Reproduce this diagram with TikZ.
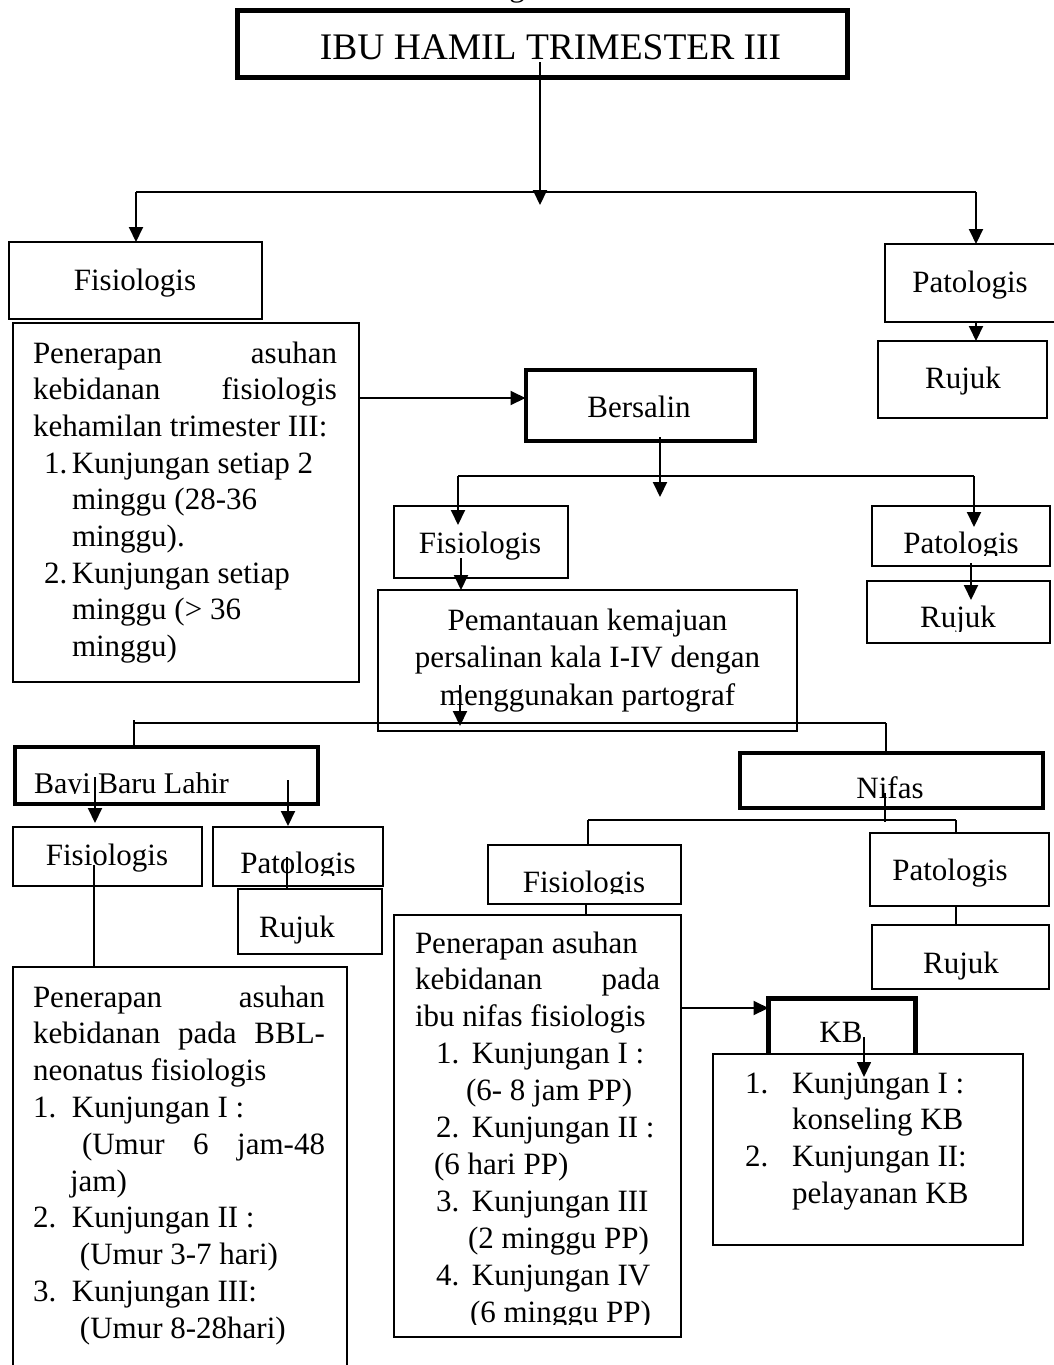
\documentclass[tikz,border=0pt]{standalone}
\usepackage{fontspec}
\setmainfont{Liberation Serif}
\usetikzlibrary{arrows.meta,calc}
\begin{document}
\begin{tikzpicture}[x=1pt,y=-1pt,
  bx/.style={draw, line width=1.6pt, inner sep=0pt, outer sep=0pt},
  bxt/.style={draw, line width=4.5pt, inner sep=0pt, outer sep=0pt},
  arr/.style={line width=2pt, -{Triangle[width=14pt,length=15pt]}},
  ln/.style={line width=1.8pt},
  txt/.style={inner sep=0pt, outer sep=0pt, font=\fontsize{31}{36.7}\selectfont},
]
\useasboundingbox (0,0) rectangle (1053,1365);

% ---------- boxes ----------
\node[bxt, minimum width=610pt, minimum height=67pt] (top) at (542.5,44) {};
\node[bx, minimum width=253pt, minimum height=77pt] (fis1) at (135.5,280.5) {};
\node[bx, minimum width=346pt, minimum height=359pt] (box1) at (186,502.5) {};
\node[bx, minimum width=172pt, minimum height=78pt] (pat1) at (971,283) {};
\node[bx, minimum width=169pt, minimum height=77pt] (rujuk1) at (962.5,379.5) {};
\node[bxt, line width=4pt, minimum width=229pt, minimum height=71pt] (bers) at (640,405) {};
\node[bx, minimum width=174pt, minimum height=72pt] (fis2) at (481,542) {};
\node[bx, minimum width=178pt, minimum height=60pt] (pat2) at (961,536) {};
\node[bx, minimum width=183pt, minimum height=62pt] (rujuk2) at (958.5,612) {};
\node[bx, minimum width=419pt, minimum height=141pt] (pem) at (587.5,660.5) {};
\node[bxt, line width=4pt, minimum width=303pt, minimum height=57pt] (bbl) at (166.5,775.5) {};
\node[bx, minimum width=189pt, minimum height=59pt] (fis3) at (107.5,856.5) {};
\node[bx, minimum width=170pt, minimum height=59pt] (pat3) at (298,856.5) {};
\node[bx, minimum width=144pt, minimum height=65pt] (rujuk3) at (310,921.5) {};
\node[bx, minimum width=334pt, minimum height=413pt] (box4) at (180,1173.5) {};
\node[bxt, line width=4pt, minimum width=303pt, minimum height=55pt] (nifas) at (891.5,780.5) {};
\node[bx, minimum width=193pt, minimum height=59pt] (fis4) at (584.5,874.5) {};
\node[bx, minimum width=179pt, minimum height=73pt] (pat4) at (959.5,869.5) {};
\node[bx, minimum width=177pt, minimum height=64pt] (rujuk4) at (960.5,957) {};
\node[bx, minimum width=287pt, minimum height=422pt] (box5) at (537.5,1126) {};
\node[bxt, minimum width=147pt, minimum height=62pt] (kb) at (842,1029.5) {};

% ---------- texts ----------
\node[txt, anchor=base] (gcut) at (517,-3) {g};
\node[txt, font=\fontsize{37.5}{44}\selectfont, anchor=base] (ttop) at (550.5,59) {IBU HAMIL TRIMESTER III};
\node[txt, anchor=base] (tfis1) at (135,290) {Fisiologis};
\node[txt, anchor=base] (tpat1) at (970,292) {Patologis};
\node[txt, anchor=base] (trujuk1) at (963,388) {Rujuk};
\node[txt, anchor=base] (tbers) at (639,417) {Bersalin};
\node[txt, anchor=base] (tfis2) at (480,553) {Fisiologis};
\node[txt, anchor=base] (tnifas) at (890,798) {Nifas};
\node[txt, anchor=base] (tfis3) at (107,865) {Fisiologis};
\node[txt, anchor=base] (trujuk3) at (297,937) {Rujuk};
\node[txt, anchor=base] (tpat4) at (950,880) {Patologis};
\node[txt, anchor=base] (trujuk4) at (961,973) {Rujuk};
\node[txt, anchor=base] (tkb) at (841,1042) {KB};

\begin{scope}
\clip (870,500) rectangle (1053,555.5);
\node[txt, anchor=base] (tpat2) at (961,553) {Patologis};
\end{scope}
\begin{scope}
\clip (867,585) rectangle (1053,631);
\node[txt, anchor=base] (trujuk2) at (958,627) {Rujuk};
\end{scope}
\begin{scope}
\clip (15,750) rectangle (320,793.8);
\node[txt, font=\fontsize{30}{36}\selectfont, anchor=base west] (tbbl) at (34,793) {Bayi Baru Lahir};
\end{scope}
\begin{scope}
\clip (213,830) rectangle (383,875);
\node[txt, anchor=base] (tpat3) at (298,873) {Patologis};
\end{scope}
\begin{scope}
\clip (488,848) rectangle (681,893.5);
\node[txt, anchor=base] (tfis4) at (584,892) {Fisiologis};
\end{scope}

\node[txt, anchor=base west] (tbox1) at (33,363) {\begin{minipage}[t]{304pt}\fontsize{31}{36.7}\selectfont
Penerapan\hfill asuhan\\
kebidanan\hfill fisiologis\\
kehamilan trimester III:\\
\hspace*{11pt}\makebox[28pt][l]{1.}Kunjungan setiap 2\\
\hspace*{39pt}minggu (28-36\\
\hspace*{39pt}minggu).\\
\hspace*{11pt}\makebox[28pt][l]{2.}Kunjungan setiap\\
\hspace*{39pt}minggu (> 36\\
\hspace*{39pt}minggu)
\end{minipage}};

\node[txt, anchor=base] (tpem) at (587.5,630) {\begin{minipage}[t]{419pt}\fontsize{31}{37.5}\selectfont\centering
Pemantauan kemajuan\\
persalinan kala I-IV dengan\\
menggunakan partograf
\end{minipage}};

\node[txt, anchor=base west] (tbox4) at (33,1007) {\begin{minipage}[t]{292pt}\fontsize{31}{36.8}\selectfont
Penerapan\hfill asuhan\\
kebidanan\hfill pada\hfill BBL-\\
neonatus fisiologis\\
\makebox[39pt][l]{1.}Kunjungan I :\\
\hspace*{49pt}(Umur\hfill 6\hfill jam-48\\
\hspace*{37pt}jam)\\
\makebox[39pt][l]{2.}Kunjungan II :\\
\hspace*{47pt}(Umur 3-7 hari)\\
\makebox[39pt][l]{3.}Kunjungan III:\\
\hspace*{47pt}(Umur 8-28hari)
\end{minipage}};

\begin{scope}
\clip (394,915) rectangle (681,1324);
\node[txt, anchor=base west] (tbox5) at (415,953) {\begin{minipage}[t]{245pt}\fontsize{31}{36.9}\selectfont
Penerapan asuhan\\
kebidanan\hfill pada\\
ibu nifas fisiologis\\
\hspace*{21pt}\makebox[36pt][l]{1.}Kunjungan I :\\
\hspace*{51pt}(6- 8 jam PP)\\
\hspace*{21pt}\makebox[36pt][l]{2.}Kunjungan II :\\
\hspace*{19pt}(6 hari PP)\\
\hspace*{21pt}\makebox[36pt][l]{3.}Kunjungan III\\
\hspace*{53pt}(2 minggu PP)\\
\hspace*{21pt}\makebox[36pt][l]{4.}Kunjungan IV\\
\hspace*{55pt}(6 minggu PP)
\end{minipage}};
\end{scope}

% ---------- connectors ----------
\coordinate (a1s) at (540,62);
\coordinate (a1e) at (540,205);
\coordinate (h1l) at (136,192);
\coordinate (h1r) at (976,192);
\draw[arr] (a1s) -- (a1e);
\draw[ln] (h1l) -- (h1r);
\draw[arr] (h1l) -- (h1l |- fis1.north);
\draw[arr] (h1r) -- (h1r |- pat1.north);
\draw[arr] (h1r |- pat1.south) -- (h1r |- rujuk1.north);

\coordinate (y1) at (0,398);
\draw[arr] (box1.east |- y1) -- (bers.west |- y1);

\coordinate (b1s) at (660,437);
\coordinate (b1e) at (660,497);
\coordinate (h2l) at (458,476);
\coordinate (h2r) at (974,476);
\coordinate (f2in) at (458,525);
\coordinate (p2in) at (974,527);
\draw[arr] (b1s) -- (b1e);
\draw[ln] (h2l) -- (h2r);
\draw[arr] (h2l) -- (f2in);
\draw[arr] (h2r) -- (p2in);

\coordinate (f2s) at (461,558);
\draw[arr] (f2s) -- (f2s |- pem.north);
\coordinate (p2s) at (971,563);
\coordinate (r2in) at (971,600);
\draw[arr] (p2s) -- (r2in);

\coordinate (pms) at (460,685);
\coordinate (pme) at (460,726);
\draw[arr] (pms) -- (pme);
\coordinate (h3l) at (134,723);
\coordinate (h3r) at (886,723);
\coordinate (h3lt) at (134,720);
\draw[ln] (h3l) -- (h3r);
\draw[ln] (h3lt) -- (h3lt |- bbl.north);
\draw[ln] (h3r) -- (h3r |- nifas.north);

\coordinate (ns) at (885,793);
\coordinate (ne) at (885,822);
\coordinate (h4l) at (588,820);
\coordinate (h4r) at (956,820);
\draw[ln] (ns) -- (ne);
\draw[ln] (h4l) -- (h4r);
\draw[ln] (h4l) -- (h4l |- fis4.north);
\draw[ln] (h4r) -- (h4r |- pat4.north);
\coordinate (f4x) at (586,0);
\draw[ln] (f4x |- fis4.south) -- (f4x |- box5.north);
\draw[ln] (h4r |- pat4.south) -- (h4r |- rujuk4.north);

\coordinate (bbs1) at (95,777);
\coordinate (bbe1) at (95,823);
\coordinate (bbs2) at (288,780);
\coordinate (bbe2) at (288,826);
\draw[arr] (bbs1) -- (bbe1);
\draw[arr] (bbs2) -- (bbe2);
\coordinate (f3s) at (94,865);
\draw[ln] (f3s) -- (f3s |- box4.north);
\coordinate (p3s) at (287,857);
\draw[ln] (p3s) -- (p3s |- rujuk3.north);

\coordinate (y2) at (0,1008);
\draw[arr] (box5.east |- y2) -- (kb.west |- y2);

% ---------- KB list (covers bottom of KB box) ----------
\node[bx, fill=white, minimum width=310pt, minimum height=191pt] (kblist) at (868,1149.5) {};
\node[txt, anchor=base west] (tkblist) at (745,1093) {\begin{minipage}[t]{270pt}\fontsize{31}{36.7}\selectfont
\makebox[47pt][l]{1.}Kunjungan I :\\
\hspace*{47pt}konseling KB\\
\makebox[47pt][l]{2.}Kunjungan II:\\
\hspace*{47pt}pelayanan KB
\end{minipage}};
\coordinate (kbs) at (864,1037);
\coordinate (kbe) at (864,1077);
\draw[arr, line width=1.6pt] (kbs) -- (kbe);
\end{tikzpicture}
\end{document}
